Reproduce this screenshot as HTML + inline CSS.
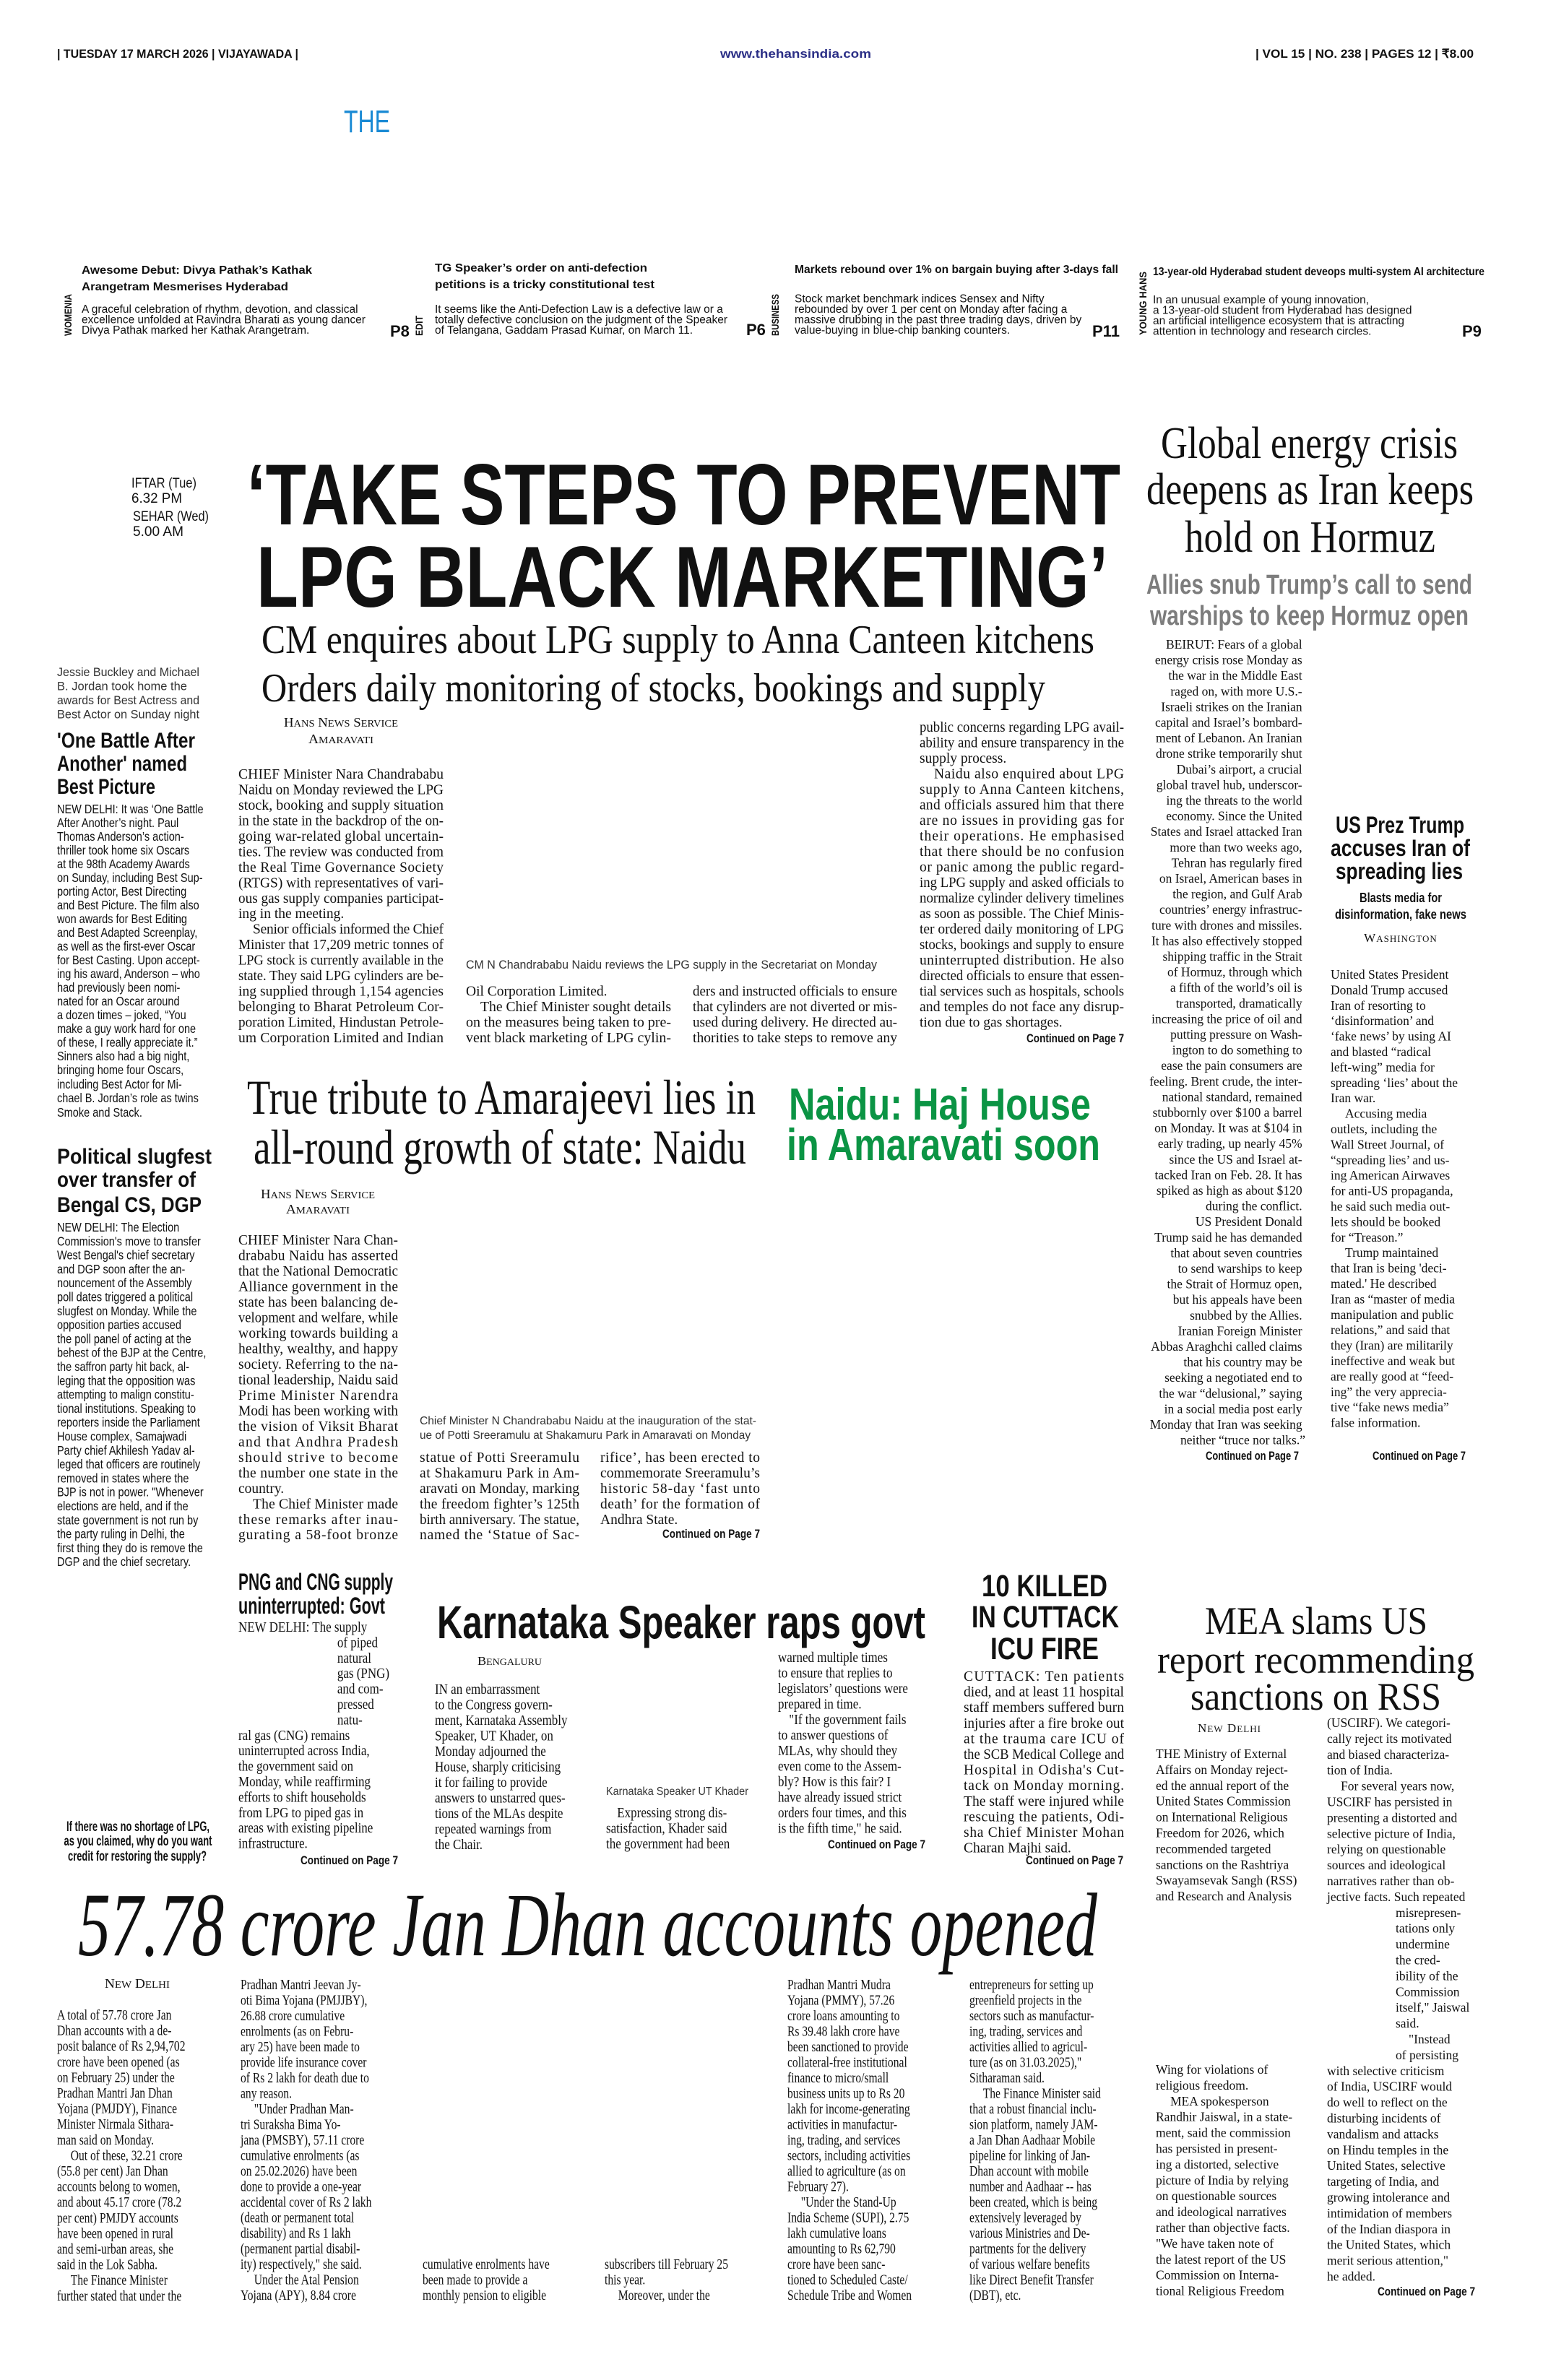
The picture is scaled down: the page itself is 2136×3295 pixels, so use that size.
<!DOCTYPE html>
<html><head><meta charset="utf-8">
<style>
html,body{margin:0;padding:0;background:#fff;}
body{width:2136px;height:3295px;overflow:hidden;position:relative;}
svg{position:absolute;left:0;top:0;}
.sf{font-family:"Liberation Serif",serif;}
.ss{font-family:"Liberation Sans",sans-serif;}
.b{font-weight:bold;}
</style></head>
<body>
<svg width="2136" height="3295" viewBox="0 0 2136 3295" xmlns="http://www.w3.org/2000/svg" fill="#111">
<!-- HEADER -->
<g class="ss b" font-size="17">
<text x="79" y="80" textLength="334" lengthAdjust="spacingAndGlyphs">| TUESDAY 17 MARCH 2026 | VIJAYAWADA |</text>
<text x="997" y="80" textLength="209" lengthAdjust="spacingAndGlyphs" fill="#2b2f86">www.thehansindia.com</text>
<text x="1738" y="80" textLength="302" lengthAdjust="spacingAndGlyphs">| VOL 15 | NO. 238 | PAGES 12 | ₹8.00</text>
</g>
<text x="476" y="183" class="ss" font-size="44" fill="#1a8ad4" textLength="64" lengthAdjust="spacingAndGlyphs">THE</text>

<!-- TEASERS -->
<g class="ss b" font-size="16">
<text x="113" y="379" textLength="319" lengthAdjust="spacingAndGlyphs">Awesome Debut: Divya Pathak’s Kathak</text>
<text x="113" y="402" textLength="286" lengthAdjust="spacingAndGlyphs">Arangetram Mesmerises Hyderabad</text>
<text x="602" y="376" textLength="294" lengthAdjust="spacingAndGlyphs">TG Speaker’s order on anti-defection</text>
<text x="602" y="399" textLength="304" lengthAdjust="spacingAndGlyphs">petitions is a tricky constitutional test</text>
<text x="1100" y="378" textLength="448" lengthAdjust="spacingAndGlyphs">Markets rebound over 1% on bargain buying after 3-days fall</text>
<text x="1596" y="381" textLength="459" lengthAdjust="spacingAndGlyphs">13-year-old Hyderabad student deveops multi-system AI architecture</text>
</g>
<g class="ss" font-size="15.5">
<text x="113" y="433">A graceful celebration of rhythm, devotion, and classical</text>
<text x="113" y="447.5">excellence unfolded at Ravindra Bharati as young dancer</text>
<text x="113" y="462">Divya Pathak marked her Kathak Arangetram.</text>
<text x="602" y="433">It seems like the Anti-Defection Law is a defective law or a</text>
<text x="602" y="447.5">totally defective conclusion on the judgment of the Speaker</text>
<text x="602" y="462">of Telangana, Gaddam Prasad Kumar, on March 11.</text>
<text x="1100" y="418.5">Stock market benchmark indices Sensex and Nifty</text>
<text x="1100" y="433">rebounded by over 1 per cent on Monday after facing a</text>
<text x="1100" y="447.5">massive drubbing in the past three trading days, driven by</text>
<text x="1100" y="462">value-buying in blue-chip banking counters.</text>
<text x="1596" y="420">In an unusual example of young innovation,</text>
<text x="1596" y="434.5">a 13-year-old student from Hyderabad has designed</text>
<text x="1596" y="449">an artificial intelligence ecosystem that is attracting</text>
<text x="1596" y="463.5">attention in technology and research circles.</text>
</g>
<g class="ss b" font-size="14">
<text transform="translate(99,436) rotate(-90)" text-anchor="middle" textLength="58" lengthAdjust="spacingAndGlyphs">WOMENIA</text>
<text transform="translate(585,451) rotate(-90)" text-anchor="middle" textLength="28" lengthAdjust="spacingAndGlyphs">EDIT</text>
<text transform="translate(1078,436) rotate(-90)" text-anchor="middle" textLength="58" lengthAdjust="spacingAndGlyphs">BUSINESS</text>
<text transform="translate(1587,420) rotate(-90)" text-anchor="middle" textLength="88" lengthAdjust="spacingAndGlyphs">YOUNG HANS</text>
</g>
<g class="ss b" font-size="22">
<text x="540" y="466">P8</text>
<text x="1033" y="464">P6</text>
<text x="1512" y="466">P11</text>
<text x="2024" y="466">P9</text>
</g>

<!-- IFTAR -->
<g class="ss" font-size="19">
<text x="182" y="675" textLength="90" lengthAdjust="spacingAndGlyphs">IFTAR (Tue)</text>
<text x="182" y="696" textLength="70" lengthAdjust="spacingAndGlyphs">6.32 PM</text>
<text x="184" y="721" textLength="105" lengthAdjust="spacingAndGlyphs">SEHAR (Wed)</text>
<text x="184" y="742" textLength="70" lengthAdjust="spacingAndGlyphs">5.00 AM</text>
</g>

<!-- MAIN HEADLINE -->
<g class="ss b" font-size="120">
<text x="342" y="726" textLength="1209" lengthAdjust="spacingAndGlyphs">‘TAKE STEPS TO PREVENT</text>
<text x="355" y="840" textLength="1179" lengthAdjust="spacingAndGlyphs">LPG BLACK MARKETING’</text>
</g>
<g class="sf" font-size="56">
<text x="362" y="904" textLength="1153" lengthAdjust="spacingAndGlyphs">CM enquires about LPG supply to Anna Canteen kitchens</text>
<text x="362" y="971" textLength="1085" lengthAdjust="spacingAndGlyphs">Orders daily monitoring of stocks, bookings and supply</text>
</g>
<g class="sf" font-size="18">
<text x="393" y="1006" textLength="158" lengthAdjust="spacingAndGlyphs">H<tspan font-size="14">ANS</tspan> N<tspan font-size="14">EWS</tspan> S<tspan font-size="14">ERVICE</tspan></text>
<text x="427" y="1029" textLength="90" lengthAdjust="spacingAndGlyphs">A<tspan font-size="14">MARAVATI</tspan></text>
</g>
<!-- main body -->
<g class="sf" font-size="19.5">
<text x="330" y="1078" textLength="284" lengthAdjust="spacing">CHIEF Minister Nara Chandrababu</text>
<text x="330" y="1099.5" textLength="284" lengthAdjust="spacing">Naidu on Monday reviewed the LPG</text>
<text x="330" y="1121" textLength="284" lengthAdjust="spacingAndGlyphs">stock, booking and supply situation</text>
<text x="330" y="1142.4" textLength="284" lengthAdjust="spacingAndGlyphs">in the state in the backdrop of the on-</text>
<text x="330" y="1163.9" textLength="284" lengthAdjust="spacing">going war-related global uncertain-</text>
<text x="330" y="1185.4" textLength="284" lengthAdjust="spacingAndGlyphs">ties. The review was conducted from</text>
<text x="330" y="1206.8" textLength="284" lengthAdjust="spacing">the Real Time Governance Society</text>
<text x="330" y="1228.3" textLength="284" lengthAdjust="spacingAndGlyphs">(RTGS) with representatives of vari-</text>
<text x="330" y="1249.8" textLength="284" lengthAdjust="spacingAndGlyphs">ous gas supply companies participat-</text>
<text x="330" y="1271.2">ing in the meeting.</text>
<text x="350" y="1292.7" textLength="264" lengthAdjust="spacing">Senior officials informed the Chief</text>
<text x="330" y="1314.2" textLength="284" lengthAdjust="spacingAndGlyphs">Minister that 17,209 metric tonnes of</text>
<text x="330" y="1335.6" textLength="284" lengthAdjust="spacingAndGlyphs">LPG stock is currently available in the</text>
<text x="330" y="1357.1" textLength="284" lengthAdjust="spacingAndGlyphs">state. They said LPG cylinders are be-</text>
<text x="330" y="1378.6" textLength="284" lengthAdjust="spacing">ing supplied through 1,154 agencies</text>
<text x="330" y="1400" textLength="284" lengthAdjust="spacing">belonging to Bharat Petroleum Cor-</text>
<text x="330" y="1421.5" textLength="284" lengthAdjust="spacingAndGlyphs">poration Limited, Hindustan Petrole-</text>
<text x="330" y="1443" textLength="284" lengthAdjust="spacing">um Corporation Limited and Indian</text>

<text x="645" y="1378.6">Oil Corporation Limited.</text>
<text x="665" y="1400" textLength="264" lengthAdjust="spacingAndGlyphs">The Chief Minister sought details</text>
<text x="645" y="1421.5" textLength="284" lengthAdjust="spacingAndGlyphs">on the measures being taken to pre-</text>
<text x="645" y="1443" textLength="284" lengthAdjust="spacingAndGlyphs">vent black marketing of LPG cylin-</text>

<text x="959" y="1378.6" textLength="283" lengthAdjust="spacingAndGlyphs">ders and instructed officials to ensure</text>
<text x="959" y="1400" textLength="283" lengthAdjust="spacingAndGlyphs">that cylinders are not diverted or mis-</text>
<text x="959" y="1421.5" textLength="283" lengthAdjust="spacingAndGlyphs">used during delivery. He directed au-</text>
<text x="959" y="1443" textLength="283" lengthAdjust="spacingAndGlyphs">thorities to take steps to remove any</text>

<text x="1273" y="1013" textLength="283" lengthAdjust="spacingAndGlyphs">public concerns regarding LPG avail-</text>
<text x="1273" y="1034.5" textLength="283" lengthAdjust="spacingAndGlyphs">ability and ensure transparency in the</text>
<text x="1273" y="1056">supply process.</text>
<text x="1293" y="1077.5" textLength="263" lengthAdjust="spacing">Naidu also enquired about LPG</text>
<text x="1273" y="1099" textLength="283" lengthAdjust="spacing">supply to Anna Canteen kitchens,</text>
<text x="1273" y="1120.5" textLength="283" lengthAdjust="spacing">and officials assured him that there</text>
<text x="1273" y="1142" textLength="283" lengthAdjust="spacing">are no issues in providing gas for</text>
<text x="1273" y="1163.5" textLength="283" lengthAdjust="spacing">their operations. He emphasised</text>
<text x="1273" y="1185" textLength="283" lengthAdjust="spacing">that there should be no confusion</text>
<text x="1273" y="1206.5" textLength="283" lengthAdjust="spacing">or panic among the public regard-</text>
<text x="1273" y="1228" textLength="283" lengthAdjust="spacingAndGlyphs">ing LPG supply and asked officials to</text>
<text x="1273" y="1249.5" textLength="283" lengthAdjust="spacingAndGlyphs">normalize cylinder delivery timelines</text>
<text x="1273" y="1271" textLength="283" lengthAdjust="spacingAndGlyphs">as soon as possible. The Chief Minis-</text>
<text x="1273" y="1292.5" textLength="283" lengthAdjust="spacing">ter ordered daily monitoring of LPG</text>
<text x="1273" y="1314" textLength="283" lengthAdjust="spacingAndGlyphs">stocks, bookings and supply to ensure</text>
<text x="1273" y="1335.5" textLength="283" lengthAdjust="spacing">uninterrupted distribution. He also</text>
<text x="1273" y="1357" textLength="283" lengthAdjust="spacingAndGlyphs">directed officials to ensure that essen-</text>
<text x="1273" y="1378.5" textLength="283" lengthAdjust="spacingAndGlyphs">tial services such as hospitals, schools</text>
<text x="1273" y="1400" textLength="283" lengthAdjust="spacingAndGlyphs">and temples do not face any disrup-</text>
<text x="1273" y="1421.5">tion due to gas shortages.</text>
</g>
<text x="645" y="1341" class="ss" font-size="17" textLength="569" lengthAdjust="spacingAndGlyphs" fill="#333">CM N Chandrababu Naidu reviews the LPG supply in the Secretariat on Monday</text>

<!-- Continued labels -->
<g class="ss b" font-size="17" text-anchor="end">
<text x="1556" y="1443" textLength="135" lengthAdjust="spacingAndGlyphs">Continued on Page 7</text>
<text x="1052" y="2129" textLength="135" lengthAdjust="spacingAndGlyphs">Continued on Page 7</text>
<text x="1798" y="2021" textLength="129" lengthAdjust="spacingAndGlyphs">Continued on Page 7</text>
<text x="2029" y="2021" textLength="129" lengthAdjust="spacingAndGlyphs">Continued on Page 7</text>
<text x="551" y="2581" textLength="135" lengthAdjust="spacingAndGlyphs">Continued on Page 7</text>
<text x="1281" y="2559" textLength="135" lengthAdjust="spacingAndGlyphs">Continued on Page 7</text>
<text x="1555" y="2581" textLength="135" lengthAdjust="spacingAndGlyphs">Continued on Page 7</text>
<text x="2042" y="3178" textLength="135" lengthAdjust="spacingAndGlyphs">Continued on Page 7</text>
</g>

<!-- LEFT COLUMN -->
<g class="ss" font-size="17" fill="#333">
<text x="79" y="936" textLength="197" lengthAdjust="spacingAndGlyphs">Jessie Buckley and Michael</text>
<text x="79" y="955.5" textLength="180" lengthAdjust="spacingAndGlyphs">B. Jordan took home the</text>
<text x="79" y="975" textLength="197" lengthAdjust="spacingAndGlyphs">awards for Best Actress and</text>
<text x="79" y="994.5" textLength="197" lengthAdjust="spacingAndGlyphs">Best Actor on Sunday night</text>
</g>
<g class="ss b" font-size="30">
<text x="79" y="1035" textLength="191" lengthAdjust="spacingAndGlyphs">'One Battle After</text>
<text x="79" y="1067" textLength="180" lengthAdjust="spacingAndGlyphs">Another' named</text>
<text x="79" y="1099" textLength="136" lengthAdjust="spacingAndGlyphs">Best Picture</text>
<text x="79" y="1611" textLength="214" lengthAdjust="spacingAndGlyphs">Political slugfest</text>
<text x="79" y="1643" textLength="192" lengthAdjust="spacingAndGlyphs">over transfer of</text>
<text x="79" y="1678" textLength="200" lengthAdjust="spacingAndGlyphs">Bengal CS, DGP</text>
</g>
<g class="ss" font-size="17.5" transform="translate(79,0) scale(0.83,1)">
<text x="0" y="1126">NEW DELHI: It was ‘One Battle</text>
<text x="0" y="1145">After Another’s night. Paul</text>
<text x="0" y="1164">Thomas Anderson’s action-</text>
<text x="0" y="1183">thriller took home six Oscars</text>
<text x="0" y="1202">at the 98th Academy Awards</text>
<text x="0" y="1221">on Sunday, including Best Sup-</text>
<text x="0" y="1240">porting Actor, Best Directing</text>
<text x="0" y="1259">and Best Picture. The film also</text>
<text x="0" y="1278">won awards for Best Editing</text>
<text x="0" y="1297">and Best Adapted Screenplay,</text>
<text x="0" y="1316">as well as the first-ever Oscar</text>
<text x="0" y="1335">for Best Casting. Upon accept-</text>
<text x="0" y="1354">ing his award, Anderson – who</text>
<text x="0" y="1373">had previously been nomi-</text>
<text x="0" y="1392">nated for an Oscar around</text>
<text x="0" y="1411">a dozen times – joked, “You</text>
<text x="0" y="1430">make a guy work hard for one</text>
<text x="0" y="1449">of these, I really appreciate it.”</text>
<text x="0" y="1468">Sinners also had a big night,</text>
<text x="0" y="1487">bringing home four Oscars,</text>
<text x="0" y="1507">including Best Actor for Mi-</text>
<text x="0" y="1526">chael B. Jordan’s role as twins</text>
<text x="0" y="1546">Smoke and Stack.</text>

<text x="0" y="1705">NEW DELHI: The Election</text>
<text x="0" y="1724.3">Commission's move to transfer</text>
<text x="0" y="1743.6">West Bengal's chief secretary</text>
<text x="0" y="1762.9">and DGP soon after the an-</text>
<text x="0" y="1782.2">nouncement of the Assembly</text>
<text x="0" y="1801.5">poll dates triggered a political</text>
<text x="0" y="1820.8">slugfest on Monday. While the</text>
<text x="0" y="1840.1">opposition parties accused</text>
<text x="0" y="1859.4">the poll panel of acting at the</text>
<text x="0" y="1878.7">behest of the BJP at the Centre,</text>
<text x="0" y="1898">the saffron party hit back, al-</text>
<text x="0" y="1917.3">leging that the opposition was</text>
<text x="0" y="1936.6">attempting to malign constitu-</text>
<text x="0" y="1955.9">tional institutions. Speaking to</text>
<text x="0" y="1975.2">reporters inside the Parliament</text>
<text x="0" y="1994.5">House complex, Samajwadi</text>
<text x="0" y="2013.8">Party chief Akhilesh Yadav al-</text>
<text x="0" y="2033.1">leged that officers are routinely</text>
<text x="0" y="2052.4">removed in states where the</text>
<text x="0" y="2071.7">BJP is not in power. "Whenever</text>
<text x="0" y="2091">elections are held, and if the</text>
<text x="0" y="2110.3">state government is not run by</text>
<text x="0" y="2129.6">the party ruling in Delhi, the</text>
<text x="0" y="2148.9">first thing they do is remove the</text>
<text x="0" y="2168.2">DGP and the chief secretary.</text>
</g>

<!-- RIGHT: GLOBAL ENERGY -->
<g class="sf" font-size="62">
<text x="1607" y="634" textLength="411" lengthAdjust="spacingAndGlyphs">Global energy crisis</text>
<text x="1587" y="698" textLength="453" lengthAdjust="spacingAndGlyphs">deepens as Iran keeps</text>
<text x="1640" y="764" textLength="347" lengthAdjust="spacingAndGlyphs">hold on Hormuz</text>
</g>
<g class="ss b" font-size="38" fill="#7d7d7d">
<text x="1587" y="822" textLength="451" lengthAdjust="spacingAndGlyphs">Allies snub Trump’s call to send</text>
<text x="1592" y="865" textLength="441" lengthAdjust="spacingAndGlyphs">warships to keep Hormuz open</text>
</g>
<text class="sf" font-size="17.5" text-anchor="end">
<tspan x="1807" y="898">BEIRUT: Fears of a global</tspan>
<tspan x="1807" dy="21.6">energy crisis rose Monday as</tspan>
<tspan x="1807" dy="21.6">the war in the Middle East</tspan>
<tspan x="1807" dy="21.6">raged on, with more U.S.-</tspan>
<tspan x="1807" dy="21.6">Israeli strikes on the Iranian</tspan>
<tspan x="1807" dy="21.6">capital and Israel’s bombard-</tspan>
<tspan x="1807" dy="21.6">ment of Lebanon. An Iranian</tspan>
<tspan x="1807" dy="21.6">drone strike temporarily shut</tspan>
<tspan x="1807" dy="21.6">Dubai’s airport, a crucial</tspan>
<tspan x="1807" dy="21.6">global travel hub, underscor-</tspan>
<tspan x="1807" dy="21.6">ing the threats to the world</tspan>
<tspan x="1807" dy="21.6">economy. Since the United</tspan>
<tspan x="1807" dy="21.6">States and Israel attacked Iran</tspan>
<tspan x="1807" dy="21.6">more than two weeks ago,</tspan>
<tspan x="1807" dy="21.6">Tehran has regularly fired</tspan>
<tspan x="1807" dy="21.6">on Israel, American bases in</tspan>
<tspan x="1807" dy="21.6">the region, and Gulf Arab</tspan>
<tspan x="1807" dy="21.6">countries’ energy infrastruc-</tspan>
<tspan x="1807" dy="21.6">ture with drones and missiles.</tspan>
<tspan x="1807" dy="21.6">It has also effectively stopped</tspan>
<tspan x="1807" dy="21.6">shipping traffic in the Strait</tspan>
<tspan x="1807" dy="21.6">of Hormuz, through which</tspan>
<tspan x="1807" dy="21.6">a fifth of the world’s oil is</tspan>
<tspan x="1807" dy="21.6">transported, dramatically</tspan>
<tspan x="1807" dy="21.6">increasing the price of oil and</tspan>
<tspan x="1807" dy="21.6">putting pressure on Wash-</tspan>
<tspan x="1807" dy="21.6">ington to do something to</tspan>
<tspan x="1807" dy="21.6">ease the pain consumers are</tspan>
<tspan x="1807" dy="21.6">feeling. Brent crude, the inter-</tspan>
<tspan x="1807" dy="21.6">national standard, remained</tspan>
<tspan x="1807" dy="21.6">stubbornly over $100 a barrel</tspan>
<tspan x="1807" dy="21.6">on Monday. It was at $104 in</tspan>
<tspan x="1807" dy="21.6">early trading, up nearly 45%</tspan>
<tspan x="1807" dy="21.6">since the US and Israel at-</tspan>
<tspan x="1807" dy="21.6">tacked Iran on Feb. 28. It has</tspan>
<tspan x="1807" dy="21.6">spiked as high as about $120</tspan>
<tspan x="1807" dy="21.6">during the conflict.</tspan>
<tspan x="1807" dy="21.6">US President Donald</tspan>
<tspan x="1807" dy="21.6">Trump said he has demanded</tspan>
<tspan x="1807" dy="21.6">that about seven countries</tspan>
<tspan x="1807" dy="21.6">to send warships to keep</tspan>
<tspan x="1807" dy="21.6">the Strait of Hormuz open,</tspan>
<tspan x="1807" dy="21.6">but his appeals have been</tspan>
<tspan x="1807" dy="21.6">snubbed by the Allies.</tspan>
<tspan x="1807" dy="21.6">Iranian Foreign Minister</tspan>
<tspan x="1807" dy="21.6">Abbas Araghchi called claims</tspan>
<tspan x="1807" dy="21.6">that his country may be</tspan>
<tspan x="1807" dy="21.6">seeking a negotiated end to</tspan>
<tspan x="1807" dy="21.6">the war “delusional,” saying</tspan>
<tspan x="1807" dy="21.6">in a social media post early</tspan>
<tspan x="1807" dy="21.6">Monday that Iran was seeking</tspan>
<tspan x="1807" dy="21.6">neither “truce nor talks.”</tspan>
</text>
<g class="ss b" font-size="32">
<text x="1849" y="1153" textLength="178" lengthAdjust="spacingAndGlyphs">US Prez Trump</text>
<text x="1842" y="1185" textLength="193" lengthAdjust="spacingAndGlyphs">accuses Iran of</text>
<text x="1849" y="1217" textLength="176" lengthAdjust="spacingAndGlyphs">spreading lies</text>
</g>
<g class="ss b" font-size="18" text-anchor="middle">
<text x="1939" y="1249" textLength="114" lengthAdjust="spacingAndGlyphs">Blasts media for</text>
<text x="1939" y="1272" textLength="182" lengthAdjust="spacingAndGlyphs">disinformation, fake news</text>
</g>
<text x="1939" y="1304" class="sf" font-size="17" text-anchor="middle" letter-spacing="1">W<tspan font-size="13">ASHINGTON</tspan></text>
<text class="sf" font-size="17.5">
<tspan x="1842" y="1355">United States President</tspan>
<tspan x="1842" dy="21.4">Donald Trump accused</tspan>
<tspan x="1842" dy="21.4">Iran of resorting to</tspan>
<tspan x="1842" dy="21.4">‘disinformation’ and</tspan>
<tspan x="1842" dy="21.4">‘fake news’ by using AI</tspan>
<tspan x="1842" dy="21.4">and blasted “radical</tspan>
<tspan x="1842" dy="21.4">left-wing” media for</tspan>
<tspan x="1842" dy="21.4">spreading ‘lies’ about the</tspan>
<tspan x="1842" dy="21.4">Iran war.</tspan>
<tspan x="1862" dy="21.4">Accusing media</tspan>
<tspan x="1842" dy="21.4">outlets, including the</tspan>
<tspan x="1842" dy="21.4">Wall Street Journal, of</tspan>
<tspan x="1842" dy="21.4">“spreading lies’ and us-</tspan>
<tspan x="1842" dy="21.4">ing American Airwaves</tspan>
<tspan x="1842" dy="21.4">for anti-US propaganda,</tspan>
<tspan x="1842" dy="21.4">he said such media out-</tspan>
<tspan x="1842" dy="21.4">lets should be booked</tspan>
<tspan x="1842" dy="21.4">for “Treason.”</tspan>
<tspan x="1862" dy="21.4">Trump maintained</tspan>
<tspan x="1842" dy="21.4">that Iran is being 'deci-</tspan>
<tspan x="1842" dy="21.4">mated.' He described</tspan>
<tspan x="1842" dy="21.4">Iran as “master of media</tspan>
<tspan x="1842" dy="21.4">manipulation and public</tspan>
<tspan x="1842" dy="21.4">relations,” and said that</tspan>
<tspan x="1842" dy="21.4">they (Iran) are militarily</tspan>
<tspan x="1842" dy="21.4">ineffective and weak but</tspan>
<tspan x="1842" dy="21.4">are really good at “feed-</tspan>
<tspan x="1842" dy="21.4">ing” the very apprecia-</tspan>
<tspan x="1842" dy="21.4">tive “fake news media”</tspan>
<tspan x="1842" dy="21.4">false information.</tspan>
</text>

<!-- AMARAJEEVI STORY -->
<g class="sf" font-size="68">
<text x="342" y="1542" textLength="704" lengthAdjust="spacingAndGlyphs">True tribute to Amarajeevi lies in</text>
<text x="351" y="1611" textLength="682" lengthAdjust="spacingAndGlyphs">all-round growth of state: Naidu</text>
</g>
<g class="ss b" font-size="62" fill="#0b9444">
<text x="1092" y="1550" textLength="418" lengthAdjust="spacingAndGlyphs">Naidu: Haj House</text>
<text x="1089" y="1606" textLength="434" lengthAdjust="spacingAndGlyphs">in Amaravati soon</text>
</g>
<g class="sf" font-size="18">
<text x="361" y="1659" textLength="158" lengthAdjust="spacingAndGlyphs">H<tspan font-size="14">ANS</tspan> N<tspan font-size="14">EWS</tspan> S<tspan font-size="14">ERVICE</tspan></text>
<text x="396" y="1680" textLength="88" lengthAdjust="spacingAndGlyphs">A<tspan font-size="14">MARAVATI</tspan></text>
</g>
<g class="sf" font-size="19.5">
<text x="330" y="1723" textLength="221" lengthAdjust="spacingAndGlyphs">CHIEF Minister Nara Chan-</text>
<text x="330" y="1744.5" textLength="221" lengthAdjust="spacing">drababu Naidu has asserted</text>
<text x="330" y="1766" textLength="221" lengthAdjust="spacingAndGlyphs">that the National Democratic</text>
<text x="330" y="1787.5" textLength="221" lengthAdjust="spacing">Alliance government in the</text>
<text x="330" y="1809" textLength="221" lengthAdjust="spacing">state has been balancing de-</text>
<text x="330" y="1830.5" textLength="221" lengthAdjust="spacingAndGlyphs">velopment and welfare, while</text>
<text x="330" y="1852" textLength="221" lengthAdjust="spacing">working towards building a</text>
<text x="330" y="1873.5" textLength="221" lengthAdjust="spacing">healthy, wealthy, and happy</text>
<text x="330" y="1895" textLength="221" lengthAdjust="spacing">society. Referring to the na-</text>
<text x="330" y="1916.5" textLength="221" lengthAdjust="spacing">tional leadership, Naidu said</text>
<text x="330" y="1938" textLength="221" lengthAdjust="spacing">Prime Minister Narendra</text>
<text x="330" y="1959.5" textLength="221" lengthAdjust="spacing">Modi has been working with</text>
<text x="330" y="1981" textLength="221" lengthAdjust="spacing">the vision of Viksit Bharat</text>
<text x="330" y="2002.5" textLength="221" lengthAdjust="spacing">and that Andhra Pradesh</text>
<text x="330" y="2024" textLength="221" lengthAdjust="spacing">should strive to become</text>
<text x="330" y="2045.5" textLength="221" lengthAdjust="spacing">the number one state in the</text>
<text x="330" y="2067">country.</text>
<text x="350" y="2088.5" textLength="201" lengthAdjust="spacing">The Chief Minister made</text>
<text x="330" y="2110" textLength="221" lengthAdjust="spacing">these remarks after inau-</text>
<text x="330" y="2131" textLength="221" lengthAdjust="spacing">gurating a 58-foot bronze</text>

<text x="581" y="2024" textLength="221" lengthAdjust="spacing">statue of Potti Sreeramulu</text>
<text x="581" y="2045.5" textLength="221" lengthAdjust="spacing">at Shakamuru Park in Am-</text>
<text x="581" y="2067" textLength="221" lengthAdjust="spacingAndGlyphs">aravati on Monday, marking</text>
<text x="581" y="2088.5" textLength="221" lengthAdjust="spacing">the freedom fighter’s 125th</text>
<text x="581" y="2110" textLength="221" lengthAdjust="spacingAndGlyphs">birth anniversary. The statue,</text>
<text x="581" y="2131" textLength="221" lengthAdjust="spacing">named the ‘Statue of Sac-</text>

<text x="831" y="2024" textLength="221" lengthAdjust="spacing">rifice’, has been erected to</text>
<text x="831" y="2045.5" textLength="221" lengthAdjust="spacing">commemorate Sreeramulu’s</text>
<text x="831" y="2067" textLength="221" lengthAdjust="spacing">historic 58-day ‘fast unto</text>
<text x="831" y="2088.5" textLength="221" lengthAdjust="spacing">death’ for the formation of</text>
<text x="831" y="2110">Andhra State.</text>
</g>
<g class="ss" font-size="16" fill="#333">
<text x="581" y="1972" textLength="466" lengthAdjust="spacingAndGlyphs">Chief Minister N Chandrababu Naidu at the inauguration of the stat-</text>
<text x="581" y="1992" textLength="458" lengthAdjust="spacingAndGlyphs">ue of Potti Sreeramulu at Shakamuru Park in Amaravati on Monday</text>
</g>

<!-- PNG -->
<g class="ss b" font-size="32">
<text x="330" y="2201" textLength="214" lengthAdjust="spacingAndGlyphs">PNG and CNG supply</text>
<text x="330" y="2234" textLength="203" lengthAdjust="spacingAndGlyphs">uninterrupted: Govt</text>
</g>
<g class="sf" font-size="20" transform="translate(330,0) scale(0.85,1)">
<text x="0" y="2259">NEW DELHI: The supply</text>
<text x="161" y="2280.4">of piped</text>
<text x="161" y="2301.8">natural</text>
<text x="161" y="2323.2">gas (PNG)</text>
<text x="161" y="2344.6">and com-</text>
<text x="161" y="2366">pressed</text>
<text x="161" y="2387.4">natu-</text>
<text x="0" y="2408.8">ral gas (CNG) remains</text>
<text x="0" y="2430.2">uninterrupted across India,</text>
<text x="0" y="2451.6">the government said on</text>
<text x="0" y="2473">Monday, while reaffirming</text>
<text x="0" y="2494.4">efforts to shift households</text>
<text x="0" y="2515.8">from LPG to piped gas in</text>
<text x="0" y="2537.2">areas with existing pipeline</text>
<text x="0" y="2558.6">infrastructure.</text>
</g>
<g class="ss b" font-size="19" text-anchor="middle">
<text x="191" y="2535" textLength="198" lengthAdjust="spacingAndGlyphs">If there was no shortage of LPG,</text>
<text x="191" y="2555" textLength="205" lengthAdjust="spacingAndGlyphs">as you claimed, why do you want</text>
<text x="190" y="2576" textLength="192" lengthAdjust="spacingAndGlyphs">credit for restoring the supply?</text>
</g>

<!-- KARNATAKA -->
<text x="605" y="2268" class="ss b" font-size="64" textLength="676" lengthAdjust="spacingAndGlyphs">Karnataka Speaker raps govt</text>
<text x="661" y="2305" class="sf" font-size="17" textLength="89" lengthAdjust="spacingAndGlyphs">B<tspan font-size="13">ENGALURU</tspan></text>
<g class="sf" font-size="20" transform="translate(602,0) scale(0.85,1)">
<text x="0" y="2345">IN an embarrassment</text>
<text x="0" y="2366.5">to the Congress govern-</text>
<text x="0" y="2388">ment, Karnataka Assembly</text>
<text x="0" y="2409.5">Speaker, UT Khader, on</text>
<text x="0" y="2431">Monday adjourned the</text>
<text x="0" y="2452.5">House, sharply criticising</text>
<text x="0" y="2474">it for failing to provide</text>
<text x="0" y="2495.5">answers to unstarred ques-</text>
<text x="0" y="2517">tions of the MLAs despite</text>
<text x="0" y="2538.5">repeated warnings from</text>
<text x="0" y="2560">the Chair.</text>
</g>
<text x="839" y="2485" class="ss" font-size="16" fill="#333" textLength="197" lengthAdjust="spacingAndGlyphs">Karnataka Speaker UT Khader</text>
<g class="sf" font-size="20" transform="translate(839,0) scale(0.85,1)">
<text x="18" y="2516">Expressing strong dis-</text>
<text x="0" y="2537.5">satisfaction, Khader said</text>
<text x="0" y="2559">the government had been</text>
</g>
<g class="sf" font-size="20" transform="translate(1077,0) scale(0.85,1)">
<text x="0" y="2301">warned multiple times</text>
<text x="0" y="2322.5">to ensure that replies to</text>
<text x="0" y="2344">legislators’ questions were</text>
<text x="0" y="2365.5">prepared in time.</text>
<text x="18" y="2387">"If the government fails</text>
<text x="0" y="2408.5">to answer questions of</text>
<text x="0" y="2430">MLAs, why should they</text>
<text x="0" y="2451.5">even come to the Assem-</text>
<text x="0" y="2473">bly? How is this fair? I</text>
<text x="0" y="2494.5">have already issued strict</text>
<text x="0" y="2516">orders four times, and this</text>
<text x="0" y="2537.5">is the fifth time," he said.</text>
</g>

<!-- CUTTACK -->
<g class="ss b" font-size="43" text-anchor="middle">
<text x="1446" y="2210" textLength="174" lengthAdjust="spacingAndGlyphs">10 KILLED</text>
<text x="1447" y="2253" textLength="204" lengthAdjust="spacingAndGlyphs">IN CUTTACK</text>
<text x="1446" y="2297" textLength="150" lengthAdjust="spacingAndGlyphs">ICU FIRE</text>
</g>
<g class="sf" font-size="19.5">
<text x="1334" y="2327" textLength="222" lengthAdjust="spacing">CUTTACK: Ten patients</text>
<text x="1334" y="2348.6" textLength="222" lengthAdjust="spacingAndGlyphs">died, and at least 11 hospital</text>
<text x="1334" y="2370.2" textLength="222" lengthAdjust="spacing">staff members suffered burn</text>
<text x="1334" y="2391.8" textLength="222" lengthAdjust="spacingAndGlyphs">injuries after a fire broke out</text>
<text x="1334" y="2413.4" textLength="222" lengthAdjust="spacing">at the trauma care ICU of</text>
<text x="1334" y="2435" textLength="222" lengthAdjust="spacingAndGlyphs">the SCB Medical College and</text>
<text x="1334" y="2456.6" textLength="222" lengthAdjust="spacing">Hospital in Odisha's Cut-</text>
<text x="1334" y="2478.2" textLength="222" lengthAdjust="spacing">tack on Monday morning.</text>
<text x="1334" y="2499.8" textLength="222" lengthAdjust="spacingAndGlyphs">The staff were injured while</text>
<text x="1334" y="2521.4" textLength="222" lengthAdjust="spacing">rescuing the patients, Odi-</text>
<text x="1334" y="2543" textLength="222" lengthAdjust="spacing">sha Chief Minister Mohan</text>
<text x="1334" y="2564.6">Charan Majhi said.</text>
</g>

<!-- MEA -->
<g class="sf" font-size="54">
<text x="1668" y="2262" textLength="308" lengthAdjust="spacingAndGlyphs">MEA slams US</text>
<text x="1602" y="2316" textLength="439" lengthAdjust="spacingAndGlyphs">report recommending</text>
<text x="1648" y="2367" textLength="347" lengthAdjust="spacingAndGlyphs">sanctions on RSS</text>
</g>
<text x="1658" y="2398" class="sf" font-size="17" textLength="88" lengthAdjust="spacingAndGlyphs" letter-spacing="1">N<tspan font-size="13">EW</tspan> D<tspan font-size="13">ELHI</tspan></text>
<text class="sf" font-size="17.5">
<tspan x="1600" y="2434">THE Ministry of External</tspan>
<tspan x="1600" dy="21.9">Affairs on Monday reject-</tspan>
<tspan x="1600" dy="21.9">ed the annual report of the</tspan>
<tspan x="1600" dy="21.9">United States Commission</tspan>
<tspan x="1600" dy="21.9">on International Religious</tspan>
<tspan x="1600" dy="21.9">Freedom for 2026, which</tspan>
<tspan x="1600" dy="21.9">recommended targeted</tspan>
<tspan x="1600" dy="21.9">sanctions on the Rashtriya</tspan>
<tspan x="1600" dy="21.9">Swayamsevak Sangh (RSS)</tspan>
<tspan x="1600" dy="21.9">and Research and Analysis</tspan>
<tspan x="1600" y="2871">Wing for violations of</tspan>
<tspan x="1600" dy="21.9">religious freedom.</tspan>
<tspan x="1620" dy="21.9">MEA spokesperson</tspan>
<tspan x="1600" dy="21.9">Randhir Jaiswal, in a state-</tspan>
<tspan x="1600" dy="21.9">ment, said the commission</tspan>
<tspan x="1600" dy="21.9">has persisted in present-</tspan>
<tspan x="1600" dy="21.9">ing a distorted, selective</tspan>
<tspan x="1600" dy="21.9">picture of India by relying</tspan>
<tspan x="1600" dy="21.9">on questionable sources</tspan>
<tspan x="1600" dy="21.9">and ideological narratives</tspan>
<tspan x="1600" dy="21.9">rather than objective facts.</tspan>
<tspan x="1600" dy="21.9">"We have taken note of</tspan>
<tspan x="1600" dy="21.9">the latest report of the US</tspan>
<tspan x="1600" dy="21.9">Commission on Interna-</tspan>
<tspan x="1600" dy="21.9">tional Religious Freedom</tspan>
</text>
<text class="sf" font-size="17.5">
<tspan x="1837" y="2391">(USCIRF). We categori-</tspan>
<tspan x="1837" dy="21.9">cally reject its motivated</tspan>
<tspan x="1837" dy="21.9">and biased characteriza-</tspan>
<tspan x="1837" dy="21.9">tion of India.</tspan>
<tspan x="1856" dy="21.9">For several years now,</tspan>
<tspan x="1837" dy="21.9">USCIRF has persisted in</tspan>
<tspan x="1837" dy="21.9">presenting a distorted and</tspan>
<tspan x="1837" dy="21.9">selective picture of India,</tspan>
<tspan x="1837" dy="21.9">relying on questionable</tspan>
<tspan x="1837" dy="21.9">sources and ideological</tspan>
<tspan x="1837" dy="21.9">narratives rather than ob-</tspan>
<tspan x="1837" dy="21.9">jective facts. Such repeated</tspan>
<tspan x="1932" dy="21.9">misrepresen-</tspan>
<tspan x="1932" dy="21.9">tations only</tspan>
<tspan x="1932" dy="21.9">undermine</tspan>
<tspan x="1932" dy="21.9">the cred-</tspan>
<tspan x="1932" dy="21.9">ibility of the</tspan>
<tspan x="1932" dy="21.9">Commission</tspan>
<tspan x="1932" dy="21.9">itself," Jaiswal</tspan>
<tspan x="1932" dy="21.9">said.</tspan>
<tspan x="1950" dy="21.9">"Instead</tspan>
<tspan x="1932" dy="21.9">of persisting</tspan>
<tspan x="1837" dy="21.9">with selective criticism</tspan>
<tspan x="1837" dy="21.9">of India, USCIRF would</tspan>
<tspan x="1837" dy="21.9">do well to reflect on the</tspan>
<tspan x="1837" dy="21.9">disturbing incidents of</tspan>
<tspan x="1837" dy="21.9">vandalism and attacks</tspan>
<tspan x="1837" dy="21.9">on Hindu temples in the</tspan>
<tspan x="1837" dy="21.9">United States, selective</tspan>
<tspan x="1837" dy="21.9">targeting of India, and</tspan>
<tspan x="1837" dy="21.9">growing intolerance and</tspan>
<tspan x="1837" dy="21.9">intimidation of members</tspan>
<tspan x="1837" dy="21.9">of the Indian diaspora in</tspan>
<tspan x="1837" dy="21.9">the United States, which</tspan>
<tspan x="1837" dy="21.9">merit serious attention,"</tspan>
<tspan x="1837" dy="21.9">he added.</tspan>
</text>

<!-- JAN DHAN -->
<text x="108" y="2707" class="sf" font-style="italic" font-size="125" textLength="1411" lengthAdjust="spacingAndGlyphs">57.78 crore Jan Dhan accounts opened</text>
<text x="145" y="2752" class="sf" font-size="18" textLength="90" lengthAdjust="spacingAndGlyphs">N<tspan font-size="14">EW</tspan> D<tspan font-size="14">ELHI</tspan></text>
<g class="sf" font-size="20">
<g transform="translate(79,0) scale(0.78,1)">
<text x="0" y="2796">A total of 57.78 crore Jan</text>
<text x="0" y="2817.6">Dhan accounts with a de-</text>
<text x="0" y="2839.2">posit balance of Rs 2,94,702</text>
<text x="0" y="2860.8">crore have been opened (as</text>
<text x="0" y="2882.4">on February 25) under the</text>
<text x="0" y="2904">Pradhan Mantri Jan Dhan</text>
<text x="0" y="2925.6">Yojana (PMJDY), Finance</text>
<text x="0" y="2947.2">Minister Nirmala Sithara-</text>
<text x="0" y="2968.8">man said on Monday.</text>
<text x="24" y="2990.4">Out of these, 32.21 crore</text>
<text x="0" y="3012">(55.8 per cent) Jan Dhan</text>
<text x="0" y="3033.6">accounts belong to women,</text>
<text x="0" y="3055.2">and about 45.17 crore (78.2</text>
<text x="0" y="3076.8">per cent) PMJDY accounts</text>
<text x="0" y="3098.4">have been opened in rural</text>
<text x="0" y="3120">and semi-urban areas, she</text>
<text x="0" y="3141.6">said in the Lok Sabha.</text>
<text x="24" y="3163.2">The Finance Minister</text>
<text x="0" y="3184.8">further stated that under the</text>
</g>
<g transform="translate(333,0) scale(0.78,1)">
<text x="0" y="2754">Pradhan Mantri Jeevan Jy-</text>
<text x="0" y="2775.5">oti Bima Yojana (PMJJBY),</text>
<text x="0" y="2797">26.88 crore cumulative</text>
<text x="0" y="2818.5">enrolments (as on Febru-</text>
<text x="0" y="2840">ary 25) have been made to</text>
<text x="0" y="2861.5">provide life insurance cover</text>
<text x="0" y="2883">of Rs 2 lakh for death due to</text>
<text x="0" y="2904.5">any reason.</text>
<text x="24" y="2926">"Under Pradhan Man-</text>
<text x="0" y="2947.5">tri Suraksha Bima Yo-</text>
<text x="0" y="2969">jana (PMSBY), 57.11 crore</text>
<text x="0" y="2990.5">cumulative enrolments (as</text>
<text x="0" y="3012">on 25.02.2026) have been</text>
<text x="0" y="3033.5">done to provide a one-year</text>
<text x="0" y="3055">accidental cover of Rs 2 lakh</text>
<text x="0" y="3076.5">(death or permanent total</text>
<text x="0" y="3098">disability) and Rs 1 lakh</text>
<text x="0" y="3119.5">(permanent partial disabil-</text>
<text x="0" y="3141">ity) respectively," she said.</text>
<text x="24" y="3162.5">Under the Atal Pension</text>
<text x="0" y="3184">Yojana (APY), 8.84 crore</text>
</g>
<g transform="translate(585,0) scale(0.78,1)">
<text x="0" y="3141">cumulative enrolments have</text>
<text x="0" y="3162.5">been made to provide a</text>
<text x="0" y="3184">monthly pension to eligible</text>
</g>
<g transform="translate(837,0) scale(0.78,1)">
<text x="0" y="3141">subscribers till February 25</text>
<text x="0" y="3162.5">this year.</text>
<text x="24" y="3184">Moreover, under the</text>
</g>
<g transform="translate(1090,0) scale(0.78,1)">
<text x="0" y="2754">Pradhan Mantri Mudra</text>
<text x="0" y="2775.5">Yojana (PMMY), 57.26</text>
<text x="0" y="2797">crore loans amounting to</text>
<text x="0" y="2818.5">Rs 39.48 lakh crore have</text>
<text x="0" y="2840">been sanctioned to provide</text>
<text x="0" y="2861.5">collateral-free institutional</text>
<text x="0" y="2883">finance to micro/small</text>
<text x="0" y="2904.5">business units up to Rs 20</text>
<text x="0" y="2926">lakh for income-generating</text>
<text x="0" y="2947.5">activities in manufactur-</text>
<text x="0" y="2969">ing, trading, and services</text>
<text x="0" y="2990.5">sectors, including activities</text>
<text x="0" y="3012">allied to agriculture (as on</text>
<text x="0" y="3033.5">February 27).</text>
<text x="24" y="3055">"Under the Stand-Up</text>
<text x="0" y="3076.5">India Scheme (SUPI), 2.75</text>
<text x="0" y="3098">lakh cumulative loans</text>
<text x="0" y="3119.5">amounting to Rs 62,790</text>
<text x="0" y="3141">crore have been sanc-</text>
<text x="0" y="3162.5">tioned to Scheduled Caste/</text>
<text x="0" y="3184">Schedule Tribe and Women</text>
</g>
<g transform="translate(1342,0) scale(0.78,1)">
<text x="0" y="2754">entrepreneurs for setting up</text>
<text x="0" y="2775.5">greenfield projects in the</text>
<text x="0" y="2797">sectors such as manufactur-</text>
<text x="0" y="2818.5">ing, trading, services and</text>
<text x="0" y="2840">activities allied to agricul-</text>
<text x="0" y="2861.5">ture (as on 31.03.2025),"</text>
<text x="0" y="2883">Sitharaman said.</text>
<text x="24" y="2904.5">The Finance Minister said</text>
<text x="0" y="2926">that a robust financial inclu-</text>
<text x="0" y="2947.5">sion platform, namely JAM-</text>
<text x="0" y="2969">a Jan Dhan Aadhaar Mobile</text>
<text x="0" y="2990.5">pipeline for linking of Jan-</text>
<text x="0" y="3012">Dhan account with mobile</text>
<text x="0" y="3033.5">number and Aadhaar -- has</text>
<text x="0" y="3055">been created, which is being</text>
<text x="0" y="3076.5">extensively leveraged by</text>
<text x="0" y="3098">various Ministries and De-</text>
<text x="0" y="3119.5">partments for the delivery</text>
<text x="0" y="3141">of various welfare benefits</text>
<text x="0" y="3162.5">like Direct Benefit Transfer</text>
<text x="0" y="3184">(DBT), etc.</text>
</g>
</g>
</svg>
</body></html>
